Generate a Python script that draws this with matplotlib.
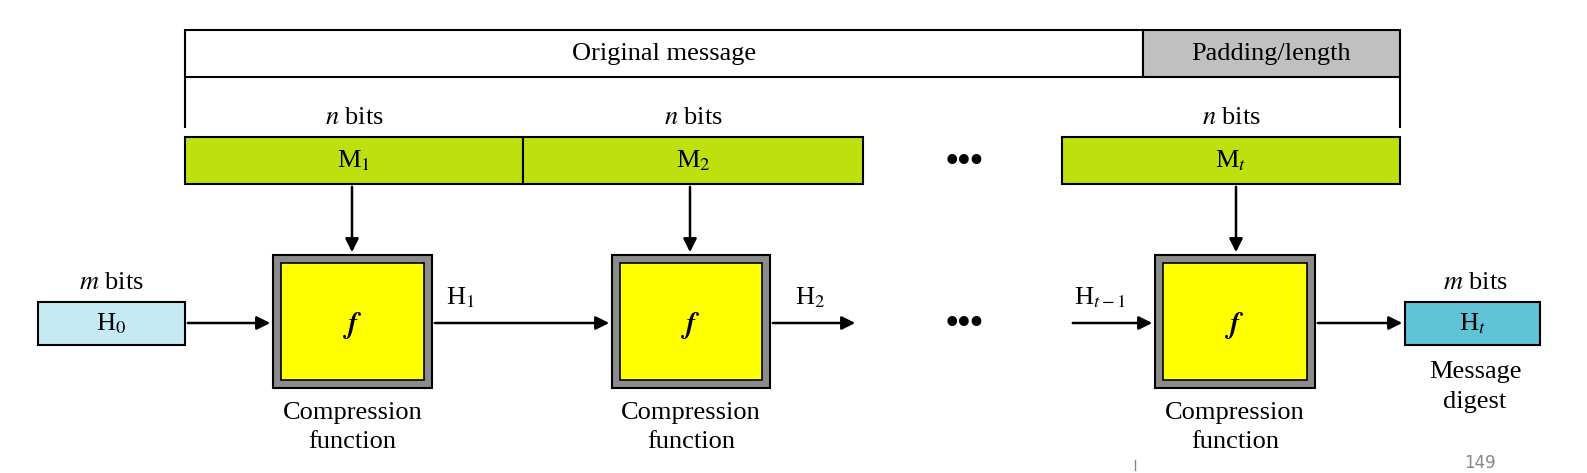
import matplotlib
matplotlib.use("Agg")
import matplotlib.pyplot as plt
from matplotlib.patches import Rectangle

plt.rcParams['font.family'] = ['Liberation Serif', 'DejaVu Serif']
FS = 19

msg_labels = ["Original message", "Padding/length"]
block_labels = ["M$_1$", "M$_2$", "M$_t$"]
hash_labels = ["H$_1$", "H$_2$", "H$_{t-1}$"]

fig = plt.figure(figsize=(15.87, 4.73), dpi=100)
ax = fig.add_axes([0, 0, 1, 1])
ax.set_xlim(0, 1587); ax.set_ylim(473, 0); ax.axis('off')

def box(x0, x1, y0, y1, fc, lw=1.5):
    ax.add_patch(Rectangle((x0, y0), x1 - x0, y1 - y0, fc=fc, ec='black', lw=lw))

def arrow(x0, y0, x1, y1):
    ax.annotate("", xy=(x1, y1), xytext=(x0, y0),
                arrowprops=dict(arrowstyle='-|>', color='black', lw=1.8, mutation_scale=20))

box(185, 1143, 30, 77, 'white')
box(1143, 1400, 30, 77, '#c0c0c0')
ax.text(664, 54, msg_labels[0], ha='center', va='center', fontsize=FS)
ax.text(1271, 54, msg_labels[1], ha='center', va='center', fontsize=FS)
ax.plot([185, 185], [77, 127], color='black', lw=1.5)
ax.plot([1400, 1400], [77, 127], color='black', lw=1.5)

lime = '#bfe00f'
blocks = [(185, 523), (523, 863), (1062, 1400)]
for (a, b), lab in zip(blocks, block_labels):
    ax.text((a + b) / 2, 118, r"$n$ bits", ha='center', va='center', fontsize=FS,
            math_fontfamily='stix')
    box(a, b, 137, 184, lime)
    ax.text((a + b) / 2, 161, lab, ha='center', va='center', fontsize=FS, math_fontfamily='stix')
ax.text(965, 162, "•••", ha='center', va='center', fontsize=26, fontweight='bold')
ax.text(965, 324, "•••", ha='center', va='center', fontsize=26, fontweight='bold')

fboxes = [(273, 432), (612, 770), (1155, 1315)]
for (a, b), mx in zip(fboxes, [352, 690, 1236]):
    arrow(mx, 184, mx, 255)
    box(a, b, 255, 388, '#8c8c8c', lw=1.5)
    box(a + 8, b - 8, 263, 380, '#ffff00', lw=1.2)
    ax.text((a + b) / 2, 325, r"$\boldsymbol{f}$", ha='center', va='center', fontsize=FS + 2,
            math_fontfamily='stix')
    ax.text((a + b) / 2, 413, "Compression", ha='center', va='center', fontsize=FS)
    ax.text((a + b) / 2, 442, "function", ha='center', va='center', fontsize=FS)

ax.text(111, 283, r"$m$ bits", ha='center', va='center', fontsize=FS, math_fontfamily='stix')
box(38, 185, 302, 345, '#c5eaf3')
ax.text(111, 324, "H$_0$", ha='center', va='center', fontsize=FS, math_fontfamily='stix')
arrow(185, 323, 273, 323)
arrow(432, 323, 612, 323)
ax.text(460, 298, hash_labels[0], ha='center', va='center', fontsize=FS, math_fontfamily='stix')
arrow(770, 323, 858, 323)
ax.text(810, 298, hash_labels[1], ha='center', va='center', fontsize=FS, math_fontfamily='stix')
arrow(1070, 323, 1155, 323)
ax.text(1100, 298, hash_labels[2], ha='center', va='center', fontsize=FS, math_fontfamily='stix')
arrow(1315, 323, 1405, 323)

ax.text(1475, 283, r"$m$ bits", ha='center', va='center', fontsize=FS, math_fontfamily='stix')
box(1405, 1540, 302, 345, '#5fc4d8')
ax.text(1472, 324, "H$_t$", ha='center', va='center', fontsize=FS, math_fontfamily='stix')
ax.text(1475, 372, "Message", ha='center', va='center', fontsize=FS)
ax.text(1475, 402, "digest", ha='center', va='center', fontsize=FS)

ax.plot([1135, 1135], [460, 470], color='#888888', lw=1)
ax.text(1480, 472, "149", ha='center', va='bottom', fontsize=12, color='#888888',
        family='DejaVu Sans')

fig.savefig("out.png", dpi=100)
